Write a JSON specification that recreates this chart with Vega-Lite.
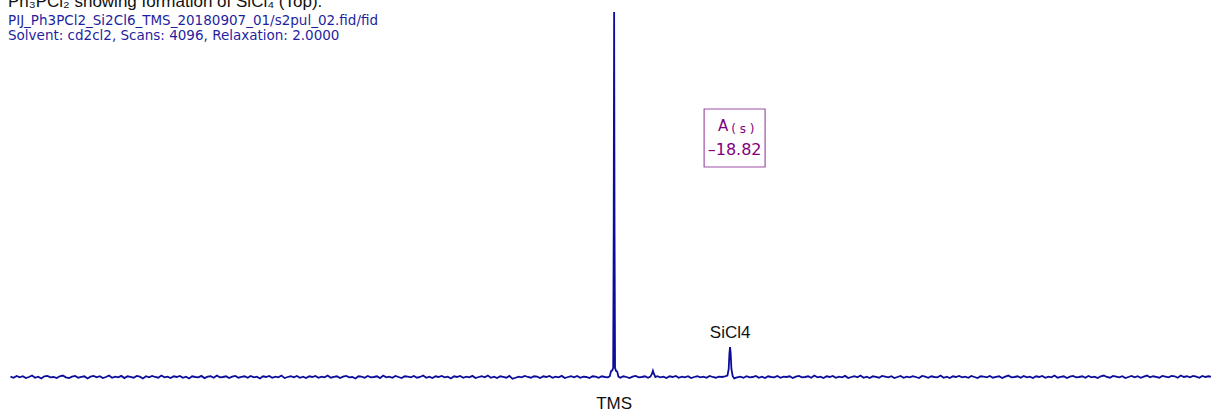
{
  "$schema": "https://vega.github.io/schema/vega-lite/v6.json",
  "width": 1211,
  "height": 412,
  "padding": 0,
  "autosize": {"type": "none"},
  "background": "white",
  "config": {"view": {"stroke": null}},
  "layer": [
    {
      "data": {"values": [
        {"p":98,"v":0.1},{"p":97.5,"v":-0.2},{"p":97,"v":0.3},{"p":96.5,"v":-0.1},{"p":96,"v":0.2},{"p":95.5,"v":-0.3},{"p":95,"v":0.0},{"p":94.5,"v":0.4},{"p":94,"v":-0.2},{"p":93.5,"v":0.1},
        {"p":93,"v":-0.4},{"p":92.5,"v":0.2},{"p":92,"v":0.3},{"p":91.5,"v":-0.1},{"p":91,"v":0.0},{"p":90.5,"v":-0.3},{"p":90,"v":0.2},{"p":89.5,"v":0.4},{"p":89,"v":-0.1},{"p":88.5,"v":-0.3},
        {"p":88,"v":0.1},{"p":87.5,"v":0.3},{"p":87,"v":-0.2},{"p":86.5,"v":0.0},{"p":86,"v":0.2},{"p":85.5,"v":-0.4},{"p":85,"v":0.1},{"p":84.5,"v":0.3},{"p":84,"v":-0.1},{"p":83.5,"v":0.2},
        {"p":83,"v":-0.3},{"p":82.5,"v":0.0},{"p":82,"v":0.4},{"p":81.5,"v":-0.2},{"p":81,"v":0.1},{"p":80.5,"v":-0.1},{"p":80,"v":0.3},{"p":79.5,"v":-0.3},{"p":79,"v":0.2},{"p":78.5,"v":0.0},
        {"p":78,"v":-0.2},{"p":77.5,"v":0.3},{"p":77,"v":0.1},{"p":76.5,"v":-0.4},{"p":76,"v":0.2},{"p":75.5,"v":-0.1},{"p":75,"v":0.3},{"p":74.5,"v":0.0},{"p":74,"v":-0.2},{"p":73.5,"v":0.4},
        {"p":73,"v":-0.1},{"p":72.5,"v":0.1},{"p":72,"v":-0.3},{"p":71.5,"v":0.2},{"p":71,"v":0.0},{"p":70.5,"v":0.3},{"p":70,"v":-0.2},{"p":69.5,"v":0.1},{"p":69,"v":-0.4},{"p":68.5,"v":0.2},
        {"p":68,"v":0.0},{"p":67.5,"v":-0.1},{"p":67,"v":0.3},{"p":66.5,"v":-0.3},{"p":66,"v":0.1},{"p":65.5,"v":0.2},{"p":65,"v":-0.2},{"p":64.5,"v":0.4},{"p":64,"v":-0.1},{"p":63.5,"v":0.0},
        {"p":63,"v":0.2},{"p":62.5,"v":-0.3},{"p":62,"v":0.1},{"p":61.5,"v":0.3},{"p":61,"v":-0.2},{"p":60.5,"v":0.0},{"p":60,"v":0.2},{"p":59.5,"v":-0.2},{"p":59,"v":0.3},{"p":58.5,"v":-0.1},
        {"p":58,"v":0.1},{"p":57.5,"v":-0.4},{"p":57,"v":0.2},{"p":56.5,"v":0.0},{"p":56,"v":0.3},{"p":55.5,"v":-0.2},{"p":55,"v":0.1},{"p":54.5,"v":-0.1},{"p":54,"v":0.4},{"p":53.5,"v":-0.3},
        {"p":53,"v":0.0},{"p":52.5,"v":0.2},{"p":52,"v":-0.1},{"p":51.5,"v":0.3},{"p":51,"v":-0.2},{"p":50.5,"v":0.1},{"p":50,"v":-0.3},{"p":49.5,"v":0.2},{"p":49,"v":0.0},{"p":48.5,"v":0.3},
        {"p":48,"v":-0.2},{"p":47.5,"v":0.1},{"p":47,"v":-0.1},{"p":46.5,"v":0.4},{"p":46,"v":-0.2},{"p":45.5,"v":0.0},{"p":45,"v":0.2},{"p":44.5,"v":-0.3},{"p":44,"v":0.1},{"p":43.5,"v":0.3},
        {"p":43,"v":-0.1},{"p":42.5,"v":0.0},{"p":42,"v":-0.4},{"p":41.5,"v":0.2},{"p":41,"v":0.1},{"p":40.5,"v":-0.2},{"p":40,"v":0.3},{"p":39.5,"v":-0.1},{"p":39,"v":0.0},{"p":38.5,"v":0.2},
        {"p":38,"v":-0.3},{"p":37.5,"v":0.4},{"p":37,"v":-0.1},{"p":36.5,"v":0.1},{"p":36,"v":-0.2},{"p":35.5,"v":0.3},{"p":35,"v":0.0},{"p":34.5,"v":-0.3},{"p":34,"v":0.2},{"p":33.5,"v":0.1},
        {"p":33,"v":-0.1},{"p":32.5,"v":0.3},{"p":32,"v":-0.2},{"p":31.5,"v":0.0},{"p":31,"v":0.4},{"p":30.5,"v":-0.2},{"p":30,"v":0.1},{"p":29.5,"v":-0.3},{"p":29,"v":0.2},{"p":28.5,"v":0.0},
        {"p":28,"v":0.3},{"p":27.5,"v":-0.1},{"p":27,"v":0.1},{"p":26.5,"v":-0.4},{"p":26,"v":0.2},{"p":25.5,"v":0.0},{"p":25,"v":0.3},{"p":24.5,"v":-0.2},{"p":24,"v":0.1},{"p":23.5,"v":-0.1},
        {"p":23,"v":0.3},{"p":22.5,"v":-0.3},{"p":22,"v":0.0},{"p":21.5,"v":0.2},{"p":21,"v":-0.1},{"p":20.5,"v":0.4},{"p":20,"v":-0.2},{"p":19.5,"v":0.1},{"p":19,"v":-0.3},{"p":18.5,"v":0.2},
        {"p":18,"v":0.0},{"p":17.5,"v":-0.2},{"p":17,"v":0.3},{"p":16.5,"v":-0.5},{"p":16,"v":-0.2},{"p":15.5,"v":0.1},{"p":15,"v":-0.1},{"p":14.5,"v":0.3},{"p":14,"v":0.0},{"p":13.5,"v":-0.2},
        {"p":13,"v":0.2},{"p":12.5,"v":0.1},{"p":12,"v":-0.3},{"p":11.5,"v":0.2},{"p":11,"v":0.0},{"p":10.5,"v":0.3},{"p":10,"v":-0.2},{"p":9.5,"v":0.1},{"p":9,"v":-0.1},{"p":8.5,"v":0.3},
        {"p":8,"v":-0.3},{"p":7.5,"v":0.0},{"p":7,"v":0.2},{"p":6.5,"v":-0.1},{"p":6,"v":0.3},{"p":5.5,"v":-0.2},{"p":5,"v":0.1},{"p":4.5,"v":0.0},{"p":4,"v":-0.3},{"p":3.5,"v":0.2},
        {"p":3,"v":0.1},{"p":2.5,"v":-0.2},{"p":2,"v":0.2},{"p":1.5,"v":0.0},{"p":1,"v":-0.1},
        {"p":0.7,"v":0.2},{"p":0.5,"v":1.6},{"p":0.3,"v":1.8},{"p":0.15,"v":2.5},{"p":0.07,"v":40},{"p":0,"v":100},{"p":-0.07,"v":40},{"p":-0.15,"v":2.5},{"p":-0.3,"v":1.7},{"p":-0.5,"v":1.5},{"p":-0.7,"v":0.1},
        {"p":-1,"v":-0.2},{"p":-1.5,"v":0.2},{"p":-2,"v":0.0},{"p":-2.5,"v":-0.3},{"p":-3,"v":0.1},{"p":-3.5,"v":0.3},{"p":-4,"v":-0.1},{"p":-4.5,"v":0.0},{"p":-5,"v":0.2},{"p":-5.5,"v":-0.2},
        {"p":-5.9,"v":0.1},{"p":-6.15,"v":0.9},{"p":-6.3,"v":1.7},{"p":-6.45,"v":0.9},{"p":-6.7,"v":0.0},
        {"p":-7,"v":0.2},{"p":-7.5,"v":-0.1},{"p":-8,"v":0.1},{"p":-8.5,"v":-0.3},{"p":-9,"v":0.2},{"p":-9.5,"v":0.0},{"p":-10,"v":0.3},{"p":-10.5,"v":-0.2},{"p":-11,"v":0.1},{"p":-11.5,"v":-0.1},
        {"p":-12,"v":0.2},{"p":-12.5,"v":-0.3},{"p":-13,"v":0.0},{"p":-13.5,"v":0.2},{"p":-14,"v":-0.1},{"p":-14.5,"v":0.1},{"p":-15,"v":-0.2},{"p":-15.5,"v":0.3},{"p":-16,"v":0.0},{"p":-16.5,"v":-0.2},
        {"p":-17,"v":0.1},{"p":-17.5,"v":0.0},{"p":-18,"v":0.2},{"p":-18.4,"v":0.4},{"p":-18.6,"v":2.2},{"p":-18.72,"v":6.5},{"p":-18.82,"v":8.2},{"p":-18.92,"v":6.5},{"p":-19.04,"v":2.2},{"p":-19.25,"v":0.2},
        {"p":-19.5,"v":-0.4},{"p":-19.8,"v":-0.2},{"p":-20.5,"v":0.1},{"p":-21,"v":-0.2},{"p":-21.5,"v":0.2},{"p":-22,"v":-0.1},{"p":-22.5,"v":0.0},{"p":-23,"v":0.3},{"p":-23.5,"v":-0.2},
        {"p":-24,"v":0.1},{"p":-24.5,"v":-0.3},{"p":-25,"v":0.2},{"p":-25.5,"v":0.0},{"p":-26,"v":-0.1},{"p":-26.5,"v":0.3},{"p":-27,"v":-0.2},{"p":-27.5,"v":0.1},{"p":-28,"v":0.0},{"p":-28.5,"v":0.2},
        {"p":-29,"v":-0.3},{"p":-29.5,"v":0.1},{"p":-30,"v":0.3},{"p":-30.5,"v":-0.1},{"p":-31,"v":0.0},{"p":-31.5,"v":0.2},{"p":-32,"v":-0.2},{"p":-32.5,"v":0.4},{"p":-33,"v":-0.1},{"p":-33.5,"v":0.1},
        {"p":-34,"v":-0.3},{"p":-34.5,"v":0.2},{"p":-35,"v":0.0},{"p":-35.5,"v":0.3},{"p":-36,"v":-0.2},{"p":-36.5,"v":0.1},{"p":-37,"v":-0.1},{"p":-37.5,"v":0.3},{"p":-38,"v":-0.3},{"p":-38.5,"v":0.0},
        {"p":-39,"v":0.2},{"p":-39.5,"v":-0.1},{"p":-40,"v":0.4},{"p":-40.5,"v":-0.2},{"p":-41,"v":0.1},{"p":-41.5,"v":-0.3},{"p":-42,"v":0.2},{"p":-42.5,"v":0.0},{"p":-43,"v":-0.2},{"p":-43.5,"v":0.3},
        {"p":-44,"v":0.1},{"p":-44.5,"v":-0.1},{"p":-45,"v":0.2},{"p":-45.5,"v":-0.3},{"p":-46,"v":0.0},{"p":-46.5,"v":0.3},{"p":-47,"v":-0.2},{"p":-47.5,"v":0.1},{"p":-48,"v":-0.1},{"p":-48.5,"v":0.2},
        {"p":-49,"v":0.0},{"p":-49.5,"v":-0.3},{"p":-50,"v":0.3},{"p":-50.5,"v":0.1},{"p":-51,"v":-0.2},{"p":-51.5,"v":0.2},{"p":-52,"v":0.0},{"p":-52.5,"v":-0.1},{"p":-53,"v":0.4},{"p":-53.5,"v":-0.2},
        {"p":-54,"v":0.1},{"p":-54.5,"v":-0.3},{"p":-55,"v":0.2},{"p":-55.5,"v":0.0},{"p":-56,"v":0.3},{"p":-56.5,"v":-0.1},{"p":-57,"v":0.1},{"p":-57.5,"v":-0.2},{"p":-58,"v":0.3},{"p":-58.5,"v":0.0},
        {"p":-59,"v":-0.3},{"p":-59.5,"v":0.2},{"p":-60,"v":0.1},{"p":-60.5,"v":-0.1},{"p":-61,"v":0.3},{"p":-61.5,"v":-0.2},{"p":-62,"v":0.0},{"p":-62.5,"v":0.2},{"p":-63,"v":-0.3},{"p":-63.5,"v":0.1},
        {"p":-64,"v":0.4},{"p":-64.5,"v":-0.1},{"p":-65,"v":0.0},{"p":-65.5,"v":0.2},{"p":-66,"v":-0.2},{"p":-66.5,"v":0.3},{"p":-67,"v":-0.1},{"p":-67.5,"v":0.1},{"p":-68,"v":-0.3},{"p":-68.5,"v":0.2},
        {"p":-69,"v":0.0},{"p":-69.5,"v":0.3},{"p":-70,"v":-0.2},{"p":-70.5,"v":0.1},{"p":-71,"v":-0.1},{"p":-71.5,"v":0.4},{"p":-72,"v":-0.2},{"p":-72.5,"v":0.0},{"p":-73,"v":0.2},{"p":-73.5,"v":-0.3},
        {"p":-74,"v":0.1},{"p":-74.5,"v":0.3},{"p":-75,"v":-0.1},{"p":-75.5,"v":0.0},{"p":-76,"v":0.2},{"p":-76.5,"v":-0.2},{"p":-77,"v":0.3},{"p":-77.5,"v":-0.1},{"p":-78,"v":0.1},{"p":-78.5,"v":-0.3},
        {"p":-79,"v":0.2},{"p":-79.5,"v":0.4},{"p":-80,"v":0.0},{"p":-80.5,"v":-0.2},{"p":-81,"v":0.3},{"p":-81.5,"v":0.1},{"p":-82,"v":-0.1},{"p":-82.5,"v":0.2},{"p":-83,"v":-0.3},{"p":-83.5,"v":0.0},
        {"p":-84,"v":0.3},{"p":-84.5,"v":-0.1},{"p":-85,"v":0.2},{"p":-85.5,"v":-0.2},{"p":-86,"v":0.1},{"p":-86.5,"v":0.4},{"p":-87,"v":-0.1},{"p":-87.5,"v":0.2},{"p":-88,"v":0.0},{"p":-88.5,"v":-0.2},
        {"p":-89,"v":0.3},{"p":-89.5,"v":0.1},{"p":-90,"v":-0.1},{"p":-90.5,"v":0.3},{"p":-91,"v":0.2},{"p":-91.5,"v":-0.2},{"p":-92,"v":0.4},{"p":-92.5,"v":0.0},{"p":-93,"v":0.2},{"p":-93.5,"v":-0.1},
        {"p":-94,"v":0.3},{"p":-94.5,"v":0.1},{"p":-95,"v":-0.2},{"p":-95.5,"v":0.3},{"p":-96,"v":0.0},{"p":-96.5,"v":0.2},{"p":-96.9,"v":0.1}
      ]},
      "mark": {"type": "line", "color": "#0c0c9c", "strokeWidth": 1.8, "interpolate": "linear"},
      "encoding": {
        "x": {"field": "p", "type": "quantitative", "sort": null, "scale": {"domain": [99.7, -96.9], "nice": false, "zero": false}, "axis": null},
        "y": {"field": "v", "type": "quantitative", "scale": {"domain": [-9.59, 103.29], "nice": false, "zero": false}, "axis": null},
        "order": {"field": "p", "sort": "descending"}
      }
    },
    {
      "data": {"values": [
        {"p": 98.4, "v": 101.4, "t": "Ph₃PCl₂ showing formation of SiCl₄ (Top)."}
      ]},
      "mark": {"type": "text", "align": "left", "baseline": "alphabetic", "font": "Liberation Sans", "fontSize": 17, "color": "#111111"},
      "encoding": {
        "x": {"field": "p", "type": "quantitative"},
        "y": {"field": "v", "type": "quantitative"},
        "text": {"field": "t"}
      }
    },
    {
      "data": {"values": [
        {"p": 98.4, "v": 96.44, "t": "PIJ_Ph3PCl2_Si2Cl6_TMS_20180907_01/s2pul_02.fid/fid"},
        {"p": 98.4, "v": 92.33, "t": "Solvent: cd2cl2, Scans: 4096, Relaxation: 2.0000"}
      ]},
      "mark": {"type": "text", "align": "left", "baseline": "alphabetic", "font": "DejaVu Sans", "fontSize": 13.5, "color": "#1f1fa0"},
      "encoding": {
        "x": {"field": "p", "type": "quantitative"},
        "y": {"field": "v", "type": "quantitative"},
        "text": {"field": "t"}
      }
    },
    {
      "data": {"values": [{"p": -14.61, "p2": -24.51, "v": 73.42, "v2": 57.53}]},
      "mark": {"type": "rect", "fill": "white", "stroke": "#a050a8", "strokeWidth": 1.2},
      "encoding": {
        "x": {"field": "p", "type": "quantitative"},
        "x2": {"field": "p2"},
        "y": {"field": "v", "type": "quantitative"},
        "y2": {"field": "v2"}
      }
    },
    {
      "data": {"values": [{"p": -17.7, "v": 68.8, "t": "A"}]},
      "mark": {"type": "text", "align": "center", "baseline": "middle", "font": "DejaVu Sans", "fontSize": 15, "color": "#800080"},
      "encoding": {
        "x": {"field": "p", "type": "quantitative"},
        "y": {"field": "v", "type": "quantitative"},
        "text": {"field": "t"}
      }
    },
    {
      "data": {"values": [{"p": -20.9, "v": 67.9, "t": "( s )"}]},
      "mark": {"type": "text", "align": "center", "baseline": "middle", "font": "DejaVu Sans", "fontSize": 12, "color": "#800080"},
      "encoding": {
        "x": {"field": "p", "type": "quantitative"},
        "y": {"field": "v", "type": "quantitative"},
        "text": {"field": "t"}
      }
    },
    {
      "data": {"values": [{"p": -19.56, "v": 62.19, "t": "–18.82"}]},
      "mark": {"type": "text", "align": "center", "baseline": "middle", "font": "DejaVu Sans", "fontSize": 16, "color": "#800080"},
      "encoding": {
        "x": {"field": "p", "type": "quantitative"},
        "y": {"field": "v", "type": "quantitative"},
        "text": {"field": "t"}
      }
    },
    {
      "data": {"values": [
        {"p": -18.83, "v": 12.05, "t": "SiCl4"},
        {"p": 0, "v": -7.4, "t": "TMS"}
      ]},
      "mark": {"type": "text", "align": "center", "baseline": "middle", "font": "Liberation Sans", "fontSize": 17, "color": "#111111"},
      "encoding": {
        "x": {"field": "p", "type": "quantitative"},
        "y": {"field": "v", "type": "quantitative"},
        "text": {"field": "t"}
      }
    }
  ]
}
